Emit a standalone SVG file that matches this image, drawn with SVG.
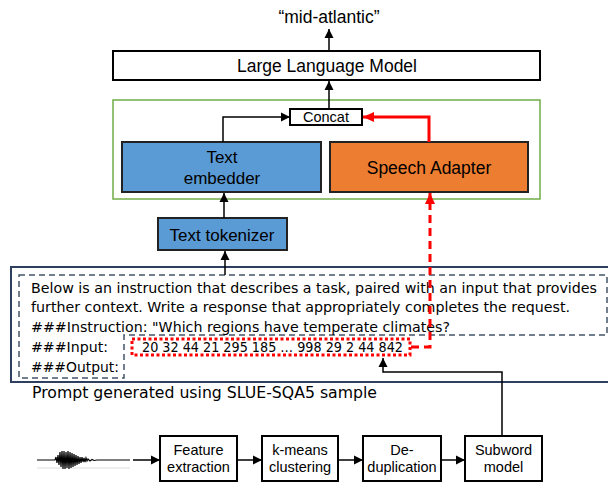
<svg xmlns="http://www.w3.org/2000/svg" width="608" height="482" viewBox="0 0 608 482">
<defs>
<marker id="ab" markerWidth="10" markerHeight="10" refX="9" refY="5" orient="auto" markerUnits="userSpaceOnUse"><path d="M0,0.5 L9,5 L0,9.5 Z" fill="#000"/></marker>
<marker id="ar" markerWidth="12" markerHeight="12" refX="11" refY="6" orient="auto" markerUnits="userSpaceOnUse"><path d="M0,1 L11,6 L0,11 Z" fill="#f00"/></marker>
<style>
.box{fill:#fff;stroke:#000;stroke-width:2}
.t{font-family:"Liberation Sans",Arial,sans-serif;fill:#000;text-anchor:middle}
.p{font-family:"DejaVu Sans",Verdana,sans-serif;font-size:14.7px;fill:#000}
.c{fill:none;stroke:#000;stroke-width:1.5}
</style>
</defs>
<text class="t" x="329" y="23" font-size="17.5">“mid-atlantic”</text>
<g id="llm"><rect class="box" x="113" y="51" width="427" height="29"/><text class="t" x="327" y="72" font-size="17.5">Large Language Model</text></g>
<g id="adapterGroup"><rect x="113" y="100" width="427" height="99" fill="none" stroke="#70AD47" stroke-width="1.5"/></g>
<g id="concat"><rect class="box" x="290" y="109" width="72" height="16"/><text class="t" x="326" y="122" font-size="14.5">Concat</text></g>
<g id="embedder"><rect x="122" y="142" width="199" height="50" fill="#5B9BD5" stroke="#222" stroke-width="2"/><text class="t" x="222" y="163" font-size="17">Text</text><text class="t" x="222" y="184" font-size="17">embedder</text></g>
<g id="speech"><rect x="330" y="142" width="198" height="50" fill="#ED7D31" stroke="#222" stroke-width="2"/><text class="t" x="429" y="174" font-size="17.5">Speech Adapter</text></g>
<g id="tokenizer"><rect x="158" y="218" width="129" height="32" fill="#5B9BD5" stroke="#222" stroke-width="2"/><text class="t" x="222" y="241" font-size="17">Text tokenizer</text></g>
<g id="prompt">
<rect x="11" y="267" width="620" height="115" fill="none" stroke="#2F3F60" stroke-width="2"/>
<path d="M19,275 H607 V335 H124 V378 H19 Z" fill="none" stroke="#44546A" stroke-width="1.5" stroke-dasharray="6,4"/>
<text class="p" x="31" y="293" textLength="566" lengthAdjust="spacingAndGlyphs">Below is an instruction that describes a task, paired with an input that provides</text>
<text class="p" x="31" y="312" textLength="539" lengthAdjust="spacingAndGlyphs">further context. Write a response that appropriately completes the request.</text>
<text class="p" x="31" y="332" textLength="419" lengthAdjust="spacingAndGlyphs">###Instruction: "Which regions have temperate climates?</text>
<text class="p" x="31" y="352" textLength="77" lengthAdjust="spacingAndGlyphs">###Input:</text>
<text class="p" x="31" y="372" textLength="88" lengthAdjust="spacingAndGlyphs">###Output:</text>
</g>
<g id="tokens"><rect x="132" y="339" width="278" height="16" fill="none" stroke="#f00" stroke-width="3" stroke-dasharray="3,2.5"/><text class="p" x="142" y="352" textLength="261" lengthAdjust="spacingAndGlyphs">20 32 44 21 295 185 … 998 29 2 44 842</text></g>
<text class="p" x="32" y="398" textLength="345" lengthAdjust="spacingAndGlyphs" style="font-size:16.5px">Prompt generated using SLUE-SQA5 sample</text>
<g id="waveform">
<line x1="37" y1="468" x2="130" y2="468" stroke="#ddd" stroke-width="1"/>
<polyline fill="none" stroke="#000" stroke-width="1.2" points="37,460 55,460 56,457 57,463 58,455 59,465 60,452 61,467 62,451 63,469 64,451 65,469 66,452 67,468 68,451 69,469 70,452 71,468 72,453 73,467 74,454 75,466 76,455 77,465 78,456 79,464 80,457 81,463 82,457 83,462 84,458 85,462 86,458 87,461 88,459 90,461 92,459.5 94,460.5 97,460 130,460"/>
</g>
<g id="feature"><rect class="box" x="160" y="436" width="77" height="45"/><text class="t" x="198.5" y="455" font-size="14.5">Feature</text><text class="t" x="198.5" y="472" font-size="14.5">extraction</text></g>
<g id="kmeans"><rect class="box" x="262" y="436" width="76" height="45"/><text class="t" x="300" y="455" font-size="14.5">k-means</text><text class="t" x="300" y="472" font-size="14.5">clustering</text></g>
<g id="dedup"><rect class="box" x="363" y="436" width="78" height="45"/><text class="t" x="402" y="455" font-size="14.5">De-</text><text class="t" x="402" y="472" font-size="14.5">duplication</text></g>
<g id="subword"><rect class="box" x="465" y="436" width="77" height="45"/><text class="t" x="503.5" y="455" font-size="14.5">Subword</text><text class="t" x="503.5" y="472" font-size="14.5">model</text></g>
<g id="connectors">
<line class="c" x1="329" y1="51" x2="329" y2="29" marker-end="url(#ab)"/>
<line class="c" x1="329" y1="109" x2="329" y2="81" marker-end="url(#ab)"/>
<path class="c" d="M223,142 V117 H290" marker-end="url(#ab)"/>
<path d="M429,142 V117 H363" fill="none" stroke="#f00" stroke-width="3" marker-end="url(#ar)"/>
<line class="c" x1="224" y1="218" x2="224" y2="193" marker-end="url(#ab)"/>
<line class="c" x1="225" y1="275" x2="225" y2="251" marker-end="url(#ab)"/>
<path d="M411,347 H430 V193" fill="none" stroke="#f00" stroke-width="3" stroke-dasharray="8,5" marker-end="url(#ar)"/>
<path class="c" d="M502,436 V372 H383 V358" marker-end="url(#ab)"/>
<line class="c" x1="133" y1="460" x2="160" y2="460" stroke-width="2" marker-end="url(#ab)"/>
<line class="c" x1="237" y1="460" x2="262" y2="460" stroke-width="2" marker-end="url(#ab)"/>
<line class="c" x1="338" y1="460" x2="363" y2="460" stroke-width="2" marker-end="url(#ab)"/>
<line class="c" x1="441" y1="460" x2="465" y2="460" stroke-width="2" marker-end="url(#ab)"/>
</g>
</svg>
